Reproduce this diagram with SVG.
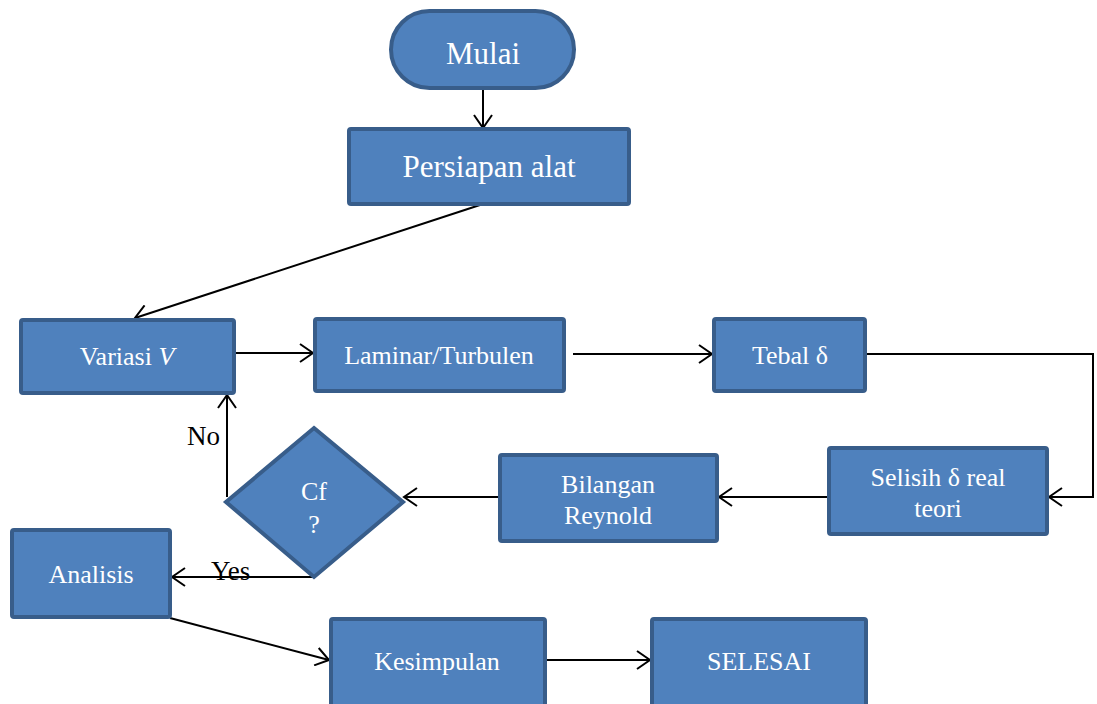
<svg xmlns="http://www.w3.org/2000/svg" width="1097" height="704" viewBox="0 0 1097 704">
<style>
.box{fill:#4f81bd;stroke:#385d8a;stroke-width:4}
.t{font-family:"Liberation Serif","Times New Roman",serif;fill:#ffffff;text-anchor:middle;font-size:26px}
.big{font-size:31px}
.lbl{font-family:"Liberation Serif","Times New Roman",serif;fill:#000;font-size:27px}
.c{fill:none;stroke:#000;stroke-width:2}
</style>
<defs>
<marker id="a" markerUnits="userSpaceOnUse" markerWidth="16" markerHeight="20" refX="14" refY="10" orient="auto">
<path d="M1,1 L14,10 L1,19" fill="none" stroke="#000" stroke-width="2"/>
</marker>
</defs>
<rect width="1097" height="704" fill="#fff"/>
<g id="connectors">
<line class="c" x1="483" y1="90" x2="483" y2="128" marker-end="url(#a)"/>
<line class="c" x1="483" y1="204" x2="135" y2="318" marker-end="url(#a)"/>
<line class="c" x1="235" y1="353" x2="313" y2="353" marker-end="url(#a)"/>
<line class="c" x1="573" y1="354" x2="712" y2="354" marker-end="url(#a)"/>
<polyline class="c" points="866,354 1093,354 1093,497 1049,497" marker-end="url(#a)"/>
<line class="c" x1="828" y1="497" x2="719" y2="497" marker-end="url(#a)"/>
<line class="c" x1="499" y1="497" x2="404" y2="497" marker-end="url(#a)"/>
<polyline class="c" points="227,497 227,395" marker-end="url(#a)"/>
<line class="c" x1="314" y1="577" x2="172" y2="577" marker-end="url(#a)"/>
<line class="c" x1="170" y1="618" x2="329" y2="660" marker-end="url(#a)"/>
<line class="c" x1="545" y1="660" x2="650" y2="660" marker-end="url(#a)"/>
<text class="lbl" x="187" y="445">No</text>
<text class="lbl" x="211" y="580">Yes</text>
</g>
<g id="mulai">
<rect class="box" x="391" y="11" width="183" height="77" rx="38.5"/>
<text class="t big" x="483" y="64">Mulai</text>
</g>
<g id="persiapan">
<rect class="box" x="349" y="129" width="280" height="75" rx="2"/>
<text class="t big" x="489" y="177">Persiapan alat</text>
</g>
<g id="variasi">
<rect class="box" x="21" y="320" width="213" height="73" rx="2"/>
<text class="t" x="127" y="365">Variasi <tspan font-style="italic">V</tspan></text>
</g>
<g id="laminar">
<rect class="box" x="315" y="319" width="249" height="72" rx="2"/>
<text class="t" x="439" y="364">Laminar/Turbulen</text>
</g>
<g id="tebal">
<rect class="box" x="714" y="319" width="151" height="72" rx="2"/>
<text class="t" x="790" y="364">Tebal δ</text>
</g>
<g id="selisih">
<rect class="box" x="829" y="448" width="218" height="86" rx="2"/>
<text class="t" x="938" y="486">Selisih δ real</text>
<text class="t" x="938" y="517">teori</text>
</g>
<g id="bilangan">
<rect class="box" x="500" y="455" width="217" height="86" rx="2"/>
<text class="t" x="608" y="493">Bilangan</text>
<text class="t" x="608" y="524">Reynold</text>
</g>
<g id="cf">
<polygon class="box" points="314,428 403,502 314,577 226,502"/>
<text class="t" x="314" y="500">Cf</text>
<text class="t" x="314" y="533" font-size="20">?</text>
</g>
<g id="analisis">
<rect class="box" x="12" y="530" width="158" height="87" rx="2"/>
<text class="t" x="91" y="583">Analisis</text>
</g>
<g id="kesimpulan">
<rect class="box" x="331" y="619" width="214" height="88" rx="2"/>
<text class="t" x="437" y="670">Kesimpulan</text>
</g>
<g id="selesai">
<rect class="box" x="652" y="619" width="214" height="88" rx="2"/>
<text class="t" x="759" y="670">SELESAI</text>
</g>
</svg>
